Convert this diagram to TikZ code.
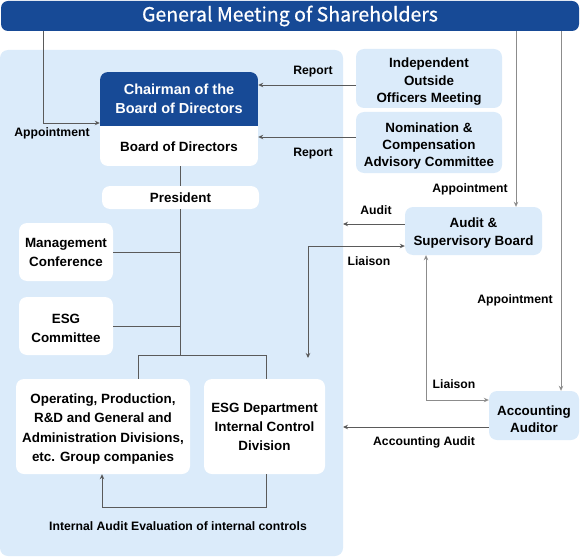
\documentclass[tikz,border=0pt]{standalone}
\usepackage{fontspec}
\setmainfont{Liberation Sans}
\newfontfamily\titlefont[FakeBold=0.6]{Noto Sans CJK KR}
\usetikzlibrary{arrows.meta}
\definecolor{dblue}{RGB}{23,74,150}
\definecolor{lblue}{RGB}{219,235,250}
\definecolor{lncol}{RGB}{90,90,90}
\definecolor{lncol2}{RGB}{140,140,140}
\newcommand\dn[1]{\rule{0pt}{#1}}
\begin{document}
\begin{tikzpicture}[x=1pt,y=-1pt,
  ln/.style={draw=lncol,line width=0.9pt},
  ln2/.style={draw=lncol2,line width=0.9pt},
  arr/.style={-{Stealth[length=5pt,width=4.5pt]}},
  darr/.style={{Stealth[length=5pt,width=4.5pt]}-{Stealth[length=5pt,width=4.5pt]}},
  txt/.style={inner sep=0pt,align=center,font=\bfseries\fontsize{13.4}{19}\selectfont},
  wbox/.style={txt,fill=white,rounded corners=8pt},
  bbox/.style={txt,fill=lblue,rounded corners=8pt},
  lbl/.style={inner sep=0pt,font=\bfseries\fontsize{12.2}{14}\selectfont},
]
\useasboundingbox (0,0) rectangle (580,556);
% panel
\fill[lblue,rounded corners=8pt] (0,50) rectangle (343,556);
% top bar
\node[fill=dblue,rounded corners=7pt,minimum width=578pt,minimum height=30pt,inner sep=0pt,
  text=white,font=\titlefont\fontsize{19.5}{22}\selectfont] (gm) at (290,16) {General Meeting of Shareholders};
% chairman block
\begin{scope}
  \clip[rounded corners=8pt] (100,72) rectangle (258,166);
  \fill[white] (100,72) rectangle (258,166);
  \fill[dblue] (100,72) rectangle (258,126);
\end{scope}
\node[txt,text=white,font=\bfseries\fontsize{14.5}{19}\selectfont,minimum width=158pt,minimum height=54pt] (chair) at (179,99) {Chairman of the\\Board of Directors};
\node[txt,minimum width=158pt,minimum height=40pt] (board) at (179,146) {\dn{12pt}Board of Directors};
% boxes
\node[wbox,minimum width=157pt,minimum height=23pt] (pres) at (180.5,197.5) {President};
\node[wbox,minimum width=94pt,minimum height=58pt] (mgmt) at (66,252) {Management\\Conference};
\node[wbox,minimum width=94pt,minimum height=58pt] (esgc) at (66,326) {\dn{14pt}ESG\\Committee};
\node[wbox,minimum width=174pt,minimum height=95pt,font=\bfseries\fontsize{13.4}{19.4}\selectfont] (oper) at (103,426.5) {\dn{15pt}Operating, Production,\\R\&D and General and\\Administration Divisions,\\etc. Group companies};
\node[wbox,minimum width=121pt,minimum height=95pt] (esgd) at (264.5,426.5) {ESG Department\\Internal Control\\Division};
\node[bbox,minimum width=146pt,minimum height=59pt,font=\bfseries\fontsize{13.4}{17.5}\selectfont] (ioom) at (429,78.5) {\dn{16pt}Independent\\Outside\\Officers Meeting};
\node[bbox,minimum width=146pt,minimum height=61pt,font=\bfseries\fontsize{13.4}{17}\selectfont] (ncac) at (429,142.5) {\dn{16pt}Nomination \&\\Compensation\\Advisory Committee};
\node[bbox,minimum width=137pt,minimum height=48pt,font=\bfseries\fontsize{13.4}{18}\selectfont] (asb) at (473.5,231) {\dn{14pt}Audit \&\\Supervisory Board};
\node[bbox,minimum width=90pt,minimum height=49pt,font=\bfseries\fontsize{13.4}{17}\selectfont] (acc) at (534,415.5) {\dn{17pt}Accounting\\Auditor};
% coordinates
\coordinate (pe) at (343,0);
\coordinate (tr) at (180,355);
% connectors
\draw[ln,arr] (gm.south -| 43,0) -- (43,123) -- (chair.west |- 0,123);
\draw[ln,arr] (ioom.west |- 0,85) -- (chair.east |- 0,85);
\draw[ln,arr] (ncac.west |- 0,137) -- (board.east |- 0,137);
\draw[ln] (board.south -| tr) -- (pres.north -| tr);
\draw[ln] (pres.south -| tr) -- (tr);
\draw[ln] (mgmt.east) -- (mgmt.east -| tr);
\draw[ln] (esgc.east) -- (esgc.east -| tr);
\draw[ln] (oper.north -| 138,0) -- (138,355) -- (266,355) -- (esgd.north -| 266,0);
\draw[ln,arr] (esgd.south -| 266,0) -- (266,507) -- (102,507) -- (oper.south -| 102,0);
\draw[ln2,arr] (gm.south -| 516,0) -- (asb.north -| 516,0);
\draw[ln2,arr] (gm.south -| 561,0) -- (acc.north -| 561,0);
\draw[ln,arr] (asb.west |- 0,224) -- (pe |- 0,224);
\draw[ln,darr] (asb.west |- 0,246) -- (308,246) -- (308,358);
\draw[ln2,darr] (asb.south -| 426,0) -- (426,400) -- (acc.west |- 0,400);
\draw[ln,arr] (acc.west |- 0,427) -- (pe |- 0,427);
% labels
\node[lbl] (l1) at (52,133) {Appointment};
\node[lbl] (l2) at (313,72) {Report};
\node[lbl] (l3) at (313,154) {Report};
\node[lbl] (l4) at (470,189) {Appointment};
\node[lbl] (l5) at (515,300) {Appointment};
\node[lbl] (l6) at (376,210) {Audit};
\node[lbl] (l7) at (369,261) {Liaison};
\node[lbl] (l8) at (454,384) {Liaison};
\node[lbl] (l9) at (424,442) {Accounting Audit};
\node[lbl] (l10) at (178,526) {Internal Audit Evaluation of internal controls};
\end{tikzpicture}
\end{document}
